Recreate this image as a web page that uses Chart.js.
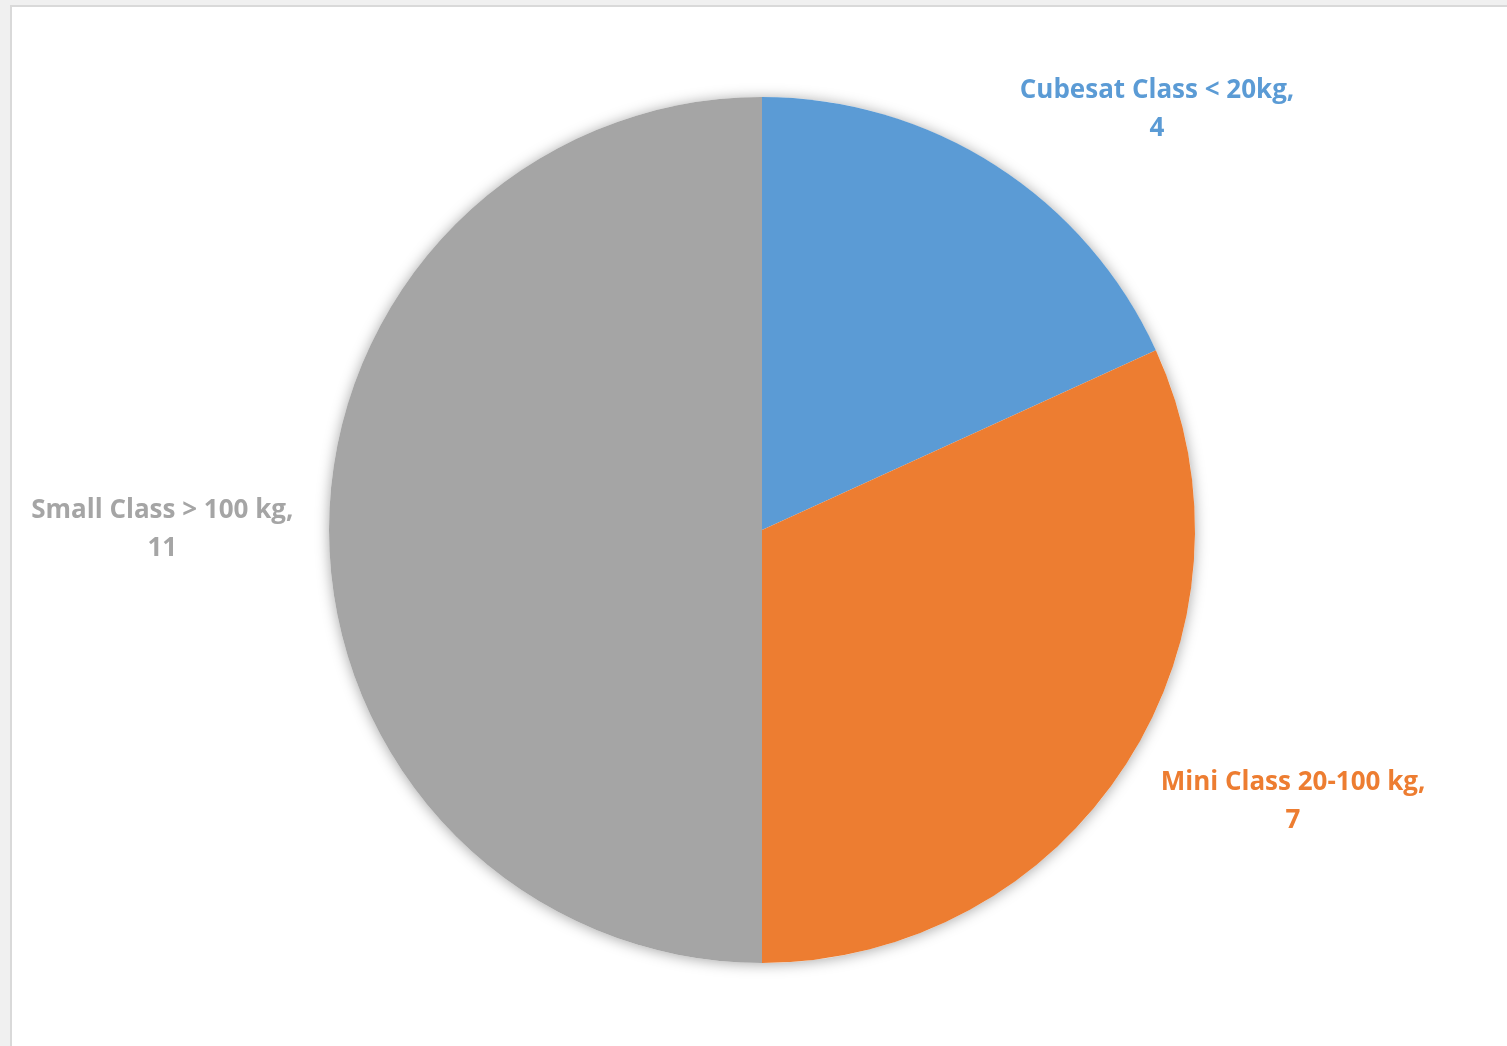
<!DOCTYPE html>
<html>
<head>
<meta charset="utf-8">
<script src="https://cdn.jsdelivr.net/npm/chart.js@4.4.1/dist/chart.umd.min.js"></script>
<style>
  html, body { margin: 0; padding: 0; background: #f0f0f0; }
  body { width: 1507px; height: 1046px; position: relative; overflow: hidden; }
  #panel {
    position: absolute; left: 10px; top: 5px; width: 1497px; height: 1041px;
    background: #fff; border-left: 2px solid #d9d9d9; border-top: 2px solid #d9d9d9;
    box-sizing: border-box;
  }
  #wrap { position: absolute; left: 1px; top: 1px; width: 1494px; height: 1038px; }
</style>
</head>
<body>
<div id="panel"><div id="wrap"><canvas id="pieChart"></canvas></div></div>
<script>
// categories and values
const categories = ["Cubesat Class < 20kg,", "Mini Class 20-100 kg,", "Small Class > 100 kg,"];
const values = [4, 7, 11];
const sliceColors = ["#5b9bd5", "#ed7d31", "#a5a5a5"];

// where each label sits: angle nudge (deg) from slice middle, distance as a multiple of radius
const labelPlacement = [
    { nudge: 10.5, dist: 1.332 },
    { nudge: -5.6, dist: 1.378 },
    { nudge: 0, dist: 1.385 }
];

// soft shadow behind the pie
const pieShadow = {
    id: "pieShadow",
    beforeDatasetsDraw(chart) {
        const arc = chart.getDatasetMeta(0).data[0];
        if (!arc) return;
        const { x, y, outerRadius } = arc.getProps(["x", "y", "outerRadius"], true);
        const ctx = chart.ctx;
        ctx.save();
        ctx.shadowColor = "rgba(0,0,0,0.35)";
        ctx.shadowBlur = 14;
        ctx.shadowOffsetX = 0;
        ctx.shadowOffsetY = 1;
        ctx.fillStyle = "#ffffff";
        ctx.beginPath();
        ctx.arc(x, y, outerRadius, 0, Math.PI * 2);
        ctx.fill();
        ctx.restore();
    }
};

// outside labels: "name," on first line, value below
const outsideLabels = {
    id: "outsideLabels",
    afterDatasetsDraw(chart) {
        const ctx = chart.ctx;
        const meta = chart.getDatasetMeta(0);
        ctx.save();
        ctx.font = "bold 26px 'Open Sans', Lato, sans-serif";
        ctx.textAlign = "center";
        ctx.textBaseline = "middle";
        meta.data.forEach((arc, i) => {
            const p = arc.getProps(["x", "y", "startAngle", "endAngle", "outerRadius"], true);
            const mid = (p.startAngle + p.endAngle) / 2 + labelPlacement[i].nudge * Math.PI / 180;
            const r = p.outerRadius * labelPlacement[i].dist;
            const lx = p.x + Math.cos(mid) * r;
            const ly = p.y + Math.sin(mid) * r;
            ctx.fillStyle = sliceColors[i];
            ctx.fillText(categories[i], lx, ly - 19);
            ctx.fillText(String(values[i]), lx, ly + 19);
        });
        ctx.restore();
    }
};

const ctx = document.getElementById("pieChart").getContext("2d");
const pieChart = new Chart(ctx, {
    type: "pie",
    data: {
        labels: categories,
        datasets: [{
            data: values,
            backgroundColor: sliceColors,
            borderWidth: 0
        }]
    },
    options: {
        responsive: true,
        maintainAspectRatio: false,
        animation: false,
        layout: { padding: { top: 88, bottom: 82, left: 316, right: 312 } },
        plugins: {
            legend: { display: false },
            tooltip: { enabled: false }
        }
    },
    plugins: [pieShadow, outsideLabels]
});
</script>
</body>
</html>
